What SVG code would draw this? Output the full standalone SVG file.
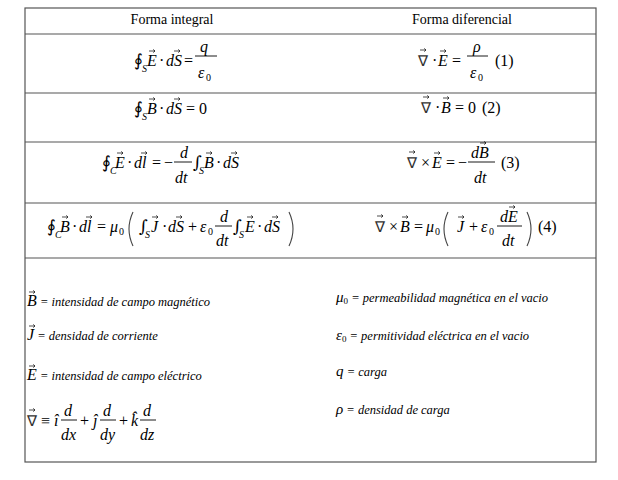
<svg xmlns="http://www.w3.org/2000/svg" xmlns:xlink="http://www.w3.org/1999/xlink" width="618" height="480" viewBox="0 0 618 480">
<style>
text{font-family:"Liberation Serif","Times New Roman",serif;fill:#000}
.h{font-size:14px}
.m{font-size:16px;font-style:italic}
.r{font-size:16px;font-style:normal}
.n{font-size:15px;font-style:normal;fill:#333}
.s{font-size:10px;font-style:italic}
.i{font-family:"DejaVu Serif",serif;font-size:17px}
.l{font-size:12.5px;font-style:italic}
.grid{stroke:#555;stroke-width:1.2;fill:none}
.bar{stroke:#000;stroke-width:0.9}
.par{fill:none;stroke:#444;stroke-width:1.1}
</style>
<defs>
<path id="v" d="M0,-2h6M4.2,-3.6L6,-2L4.2,-0.4" fill="none" stroke="#000" stroke-width="0.7"/>
<path id="lp" class="par" d="M6,-17Q-2,0 6,17"/>
<path id="rp" class="par" d="M0,-17Q8,0 0,17"/>
</defs>
<g id="table" class="grid">
<rect x="25" y="8" width="571" height="454"/>
<line x1="25" y1="34" x2="596" y2="34"/>
<line x1="25" y1="93" x2="596" y2="93"/>
<line x1="25" y1="142" x2="596" y2="142"/>
<line x1="25" y1="203" x2="596" y2="203"/>
<line x1="25" y1="258" x2="596" y2="258"/>
</g>
<g id="header">
<text class="h" x="172" y="24" text-anchor="middle">Forma integral</text>
<text class="h" x="462" y="24" text-anchor="middle">Forma diferencial</text>
</g>
<g id="row1">
<text class="i" x="134" y="66">∮</text><text class="s" x="142" y="72">S</text>
<text class="m" x="147" y="66">E</text><use href="#v" x="149" y="53"/>
<text class="r" x="159" y="66">·</text>
<text class="m" x="166" y="66">dS</text><use href="#v" x="174" y="53"/>
<text class="r" x="184" y="66">=</text>
<text class="m" x="200" y="52">q</text><line class="bar" x1="195" y1="56" x2="217" y2="56"/>
<text class="m" x="198" y="78">ε</text><text class="s" x="206" y="81" style="font-style:normal">0</text>
<text class="n" x="418" y="66">∇</text><use href="#v" x="420" y="52"/>
<text class="r" x="432" y="66">·</text>
<text class="m" x="438" y="66">E</text><use href="#v" x="440" y="53"/>
<text class="r" x="452" y="66">=</text>
<text class="m" x="473" y="52">ρ</text><line class="bar" x1="467" y1="56" x2="488" y2="56"/>
<text class="m" x="470" y="78">ε</text><text class="s" x="478" y="81" style="font-style:normal">0</text>
<text class="r" x="495" y="66">(1)</text>
</g>
<g id="row2">
<text class="i" x="134" y="114">∮</text><text class="s" x="142" y="120">S</text>
<text class="m" x="147" y="114">B</text><use href="#v" x="149" y="101"/>
<text class="r" x="159" y="114">·</text>
<text class="m" x="166" y="114">dS</text><use href="#v" x="174" y="101"/>
<text class="r" x="186" y="114">= 0</text>
<text class="n" x="421" y="113">∇</text><use href="#v" x="423" y="99"/>
<text class="r" x="435" y="113">·</text>
<text class="m" x="441" y="113">B</text><use href="#v" x="443" y="100"/>
<text class="r" x="455" y="113">= 0</text>
<text class="r" x="482" y="113">(2)</text>
</g>
<g id="row3">
<text class="i" x="102" y="168">∮</text><text class="s" x="110" y="174">C</text>
<text class="m" x="115" y="168">E</text><use href="#v" x="117" y="155"/>
<text class="r" x="127" y="168">·</text>
<text class="m" x="134" y="168">dl</text><use href="#v" x="141" y="155"/>
<text class="r" x="152" y="168">=</text>
<text class="r" x="164" y="168">−</text>
<text class="m" x="180" y="158">d</text><line class="bar" x1="174" y1="162" x2="192" y2="162"/>
<text class="m" x="175" y="183">dt</text>
<text class="i" x="193" y="168">∫</text><text class="s" x="199" y="174">S</text>
<text class="m" x="204" y="168">B</text><use href="#v" x="206" y="155"/>
<text class="r" x="216" y="168">·</text>
<text class="m" x="223" y="168">dS</text><use href="#v" x="231" y="155"/>
<text class="n" x="407" y="168">∇</text><use href="#v" x="409" y="154"/>
<text class="r" x="421" y="168">×</text>
<text class="m" x="432" y="168">E</text><use href="#v" x="434" y="155"/>
<text class="r" x="446" y="168">=</text>
<text class="r" x="458" y="168">−</text>
<text class="m" x="471" y="158">dB</text><use href="#v" x="480" y="145"/><line class="bar" x1="468" y1="162" x2="495" y2="162"/>
<text class="m" x="474" y="183">dt</text>
<text class="r" x="501" y="168">(3)</text>
</g>
<g id="row4">
<text class="i" x="47" y="232">∮</text><text class="s" x="55" y="238">C</text>
<text class="m" x="60" y="232">B</text><use href="#v" x="62" y="219"/>
<text class="r" x="72" y="232">·</text>
<text class="m" x="79" y="232">dl</text><use href="#v" x="86" y="219"/>
<text class="r" x="97" y="232">=</text>
<text class="m" x="110" y="232">μ</text><text class="s" x="119" y="235" style="font-style:normal">0</text>
<use href="#lp" x="127" y="229"/>
<text class="i" x="139" y="232">∫</text><text class="s" x="145" y="238">S</text>
<text class="m" x="151" y="232">J</text><use href="#v" x="152" y="219"/>
<text class="r" x="162" y="232">·</text>
<text class="m" x="168" y="232">dS</text><use href="#v" x="176" y="219"/>
<text class="r" x="188" y="232">+</text>
<text class="m" x="200" y="232">ε</text><text class="s" x="208" y="235" style="font-style:normal">0</text>
<text class="m" x="220" y="222">d</text><line class="bar" x1="215" y1="226" x2="232" y2="226"/>
<text class="m" x="216" y="246">dt</text>
<text class="i" x="233" y="232">∫</text><text class="s" x="239" y="238">S</text>
<text class="m" x="245" y="232">E</text><use href="#v" x="247" y="219"/>
<text class="r" x="257" y="232">·</text>
<text class="m" x="264" y="232">dS</text><use href="#v" x="272" y="219"/>
<use href="#rp" x="289" y="229"/>
<text class="n" x="375" y="232">∇</text><use href="#v" x="377" y="218"/>
<text class="r" x="389" y="232">×</text>
<text class="m" x="400" y="232">B</text><use href="#v" x="402" y="219"/>
<text class="r" x="414" y="232">=</text>
<text class="m" x="426" y="232">μ</text><text class="s" x="435" y="235" style="font-style:normal">0</text>
<use href="#lp" x="442" y="229"/>
<text class="m" x="457" y="232">J</text><use href="#v" x="458" y="219"/>
<text class="r" x="469" y="232">+</text>
<text class="m" x="481" y="232">ε</text><text class="s" x="489" y="235" style="font-style:normal">0</text>
<text class="m" x="500" y="222">dE</text><use href="#v" x="509" y="209"/><line class="bar" x1="497" y1="226" x2="522" y2="226"/>
<text class="m" x="502" y="246">dt</text>
<use href="#rp" x="527" y="229"/>
<text class="r" x="538" y="232">(4)</text>
</g>
<g id="legend">
<text class="l" x="27" y="306"><tspan style="font-size:16px">B</tspan> = intensidad de campo magnético</text><use href="#v" x="29" y="294"/>
<text class="l" x="27" y="340"><tspan style="font-size:16px">J</tspan> = densidad de corriente</text><use href="#v" x="29" y="328"/>
<text class="l" x="27" y="380"><tspan style="font-size:16px">E</tspan> = intensidad de campo eléctrico</text><use href="#v" x="29" y="368"/>
<text class="n" x="27" y="426">∇</text><use href="#v" x="29" y="412"/>
<text class="r" x="41" y="426">≡</text>
<text class="m" x="54" y="426">î</text>
<text class="m" x="64" y="416">d</text><line class="bar" x1="61" y1="420" x2="77" y2="420"/><text class="m" x="61" y="440">dx</text>
<text class="r" x="80" y="426">+</text>
<text class="m" x="93" y="426">ĵ</text>
<text class="m" x="103" y="416">d</text><line class="bar" x1="100" y1="420" x2="116" y2="420"/><text class="m" x="100" y="440">dy</text>
<text class="r" x="119" y="426">+</text>
<text class="m" x="131" y="426">k̂</text>
<text class="m" x="143" y="416">d</text><line class="bar" x1="140" y1="420" x2="156" y2="420"/><text class="m" x="140" y="440">dz</text>
<text class="l" x="336" y="302"><tspan style="font-size:15px">μ</tspan><tspan style="font-size:9px;font-style:normal" dy="2">0</tspan><tspan dy="-2"> = permeabilidad magnética en el vacio</tspan></text>
<text class="l" x="336" y="340"><tspan style="font-size:15px">ε</tspan><tspan style="font-size:9px;font-style:normal" dy="2">0</tspan><tspan dy="-2"> = permitividad eléctrica en el vacio</tspan></text>
<text class="l" x="336" y="376"><tspan style="font-size:15px">q</tspan> = carga</text>
<text class="l" x="336" y="414"><tspan style="font-size:15px">ρ</tspan> = densidad de carga</text>
</g>
</svg>
